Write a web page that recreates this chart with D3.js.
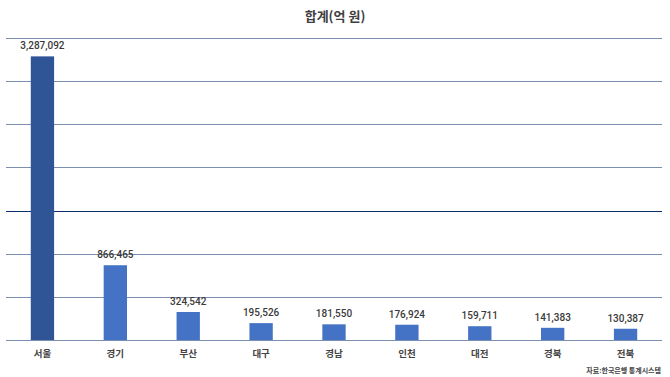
<!DOCTYPE html>
<html>
<head>
<meta charset="utf-8">
<script src="https://cdn.jsdelivr.net/npm/d3@7"></script>
<style>
  html, body { margin: 0; padding: 0; background: #fff; }
  svg { display: block; }
</style>
</head>
<body>
<div id="chart"></div>
<script>
const regions = ['서울', '경기', '부산', '대구', '경남', '인천', '대전', '경북', '전북'];
const totals  = [3287092, 866465, 324542, 195526, 181550, 176924, 159711, 141383, 130387];
const gridTicks = [0, 500000, 1000000, 1500000, 2000000, 2500000, 3000000, 3500000];

const width = 670, height = 377;
const margin = { top: 38, right: 8, bottom: 37, left: 6 };

const svg = d3.select('#chart').append('svg')
  .attr('width', width).attr('height', height);

const x = d3.scaleBand()
  .domain(regions)
  .range([margin.left, width - margin.right])
  .paddingInner(0.68)
  .paddingOuter(0.34);

const y = d3.scaleLinear()
  .domain([0, 3500000])
  .range([height - margin.bottom, margin.top]);

// title
svg.append('text')
  .attr('x', width / 2).attr('y', 21)
  .attr('text-anchor', 'middle')
  .attr('font-family', '"Noto Sans CJK KR", "Noto Sans", sans-serif')
  .attr('font-size', 13).attr('font-weight', 'bold')
  .attr('fill', '#404040')
  .text('합계(억 원)');

// gridlines (1.5M line is drawn darker, as in the original)
svg.append('g').selectAll('line')
  .data(gridTicks)
  .join('line')
  .attr('x1', margin.left).attr('x2', width - margin.right)
  .attr('y1', d => Math.round(y(d)) + 0.5).attr('y2', d => Math.round(y(d)) + 0.5)
  .attr('stroke', d => d === 1500000 ? '#0b2e6e' : '#7d8fb0')
  .attr('stroke-width', 1.2);

// bars
svg.append('g').selectAll('rect')
  .data(regions.map((r, i) => ({ r, v: totals[i] })))
  .join('rect')
  .attr('x', d => x(d.r))
  .attr('width', x.bandwidth())
  .attr('y', d => y(d.v))
  .attr('height', d => y(0) - y(d.v))
  .attr('fill', (d, i) => i === 0 ? '#2f5597' : '#4472c4');

// value labels
svg.append('g').selectAll('text')
  .data(regions.map((r, i) => ({ r, v: totals[i] })))
  .join('text')
  .attr('x', d => x(d.r) + x.bandwidth() / 2)
  .attr('y', d => y(d.v) - 7)
  .attr('text-anchor', 'middle')
  .attr('font-family', 'Roboto, sans-serif')
  .attr('font-size', 10).attr('font-weight', 500)
  .attr('fill', '#3a3a3a')
  .text(d => d3.format(',')(d.v));

// category axis
const xAxis = svg.append('g')
  .attr('transform', `translate(0, ${y(0)})`)
  .call(d3.axisBottom(x).tickSize(0).tickPadding(10));
xAxis.select('.domain').remove();
xAxis.selectAll('text')
  .attr('font-family', '"Noto Sans CJK KR", sans-serif')
  .attr('font-size', 9.5).attr('font-weight', 'bold')
  .attr('fill', '#444');

// source
svg.append('text')
  .attr('x', width - 9).attr('y', 373)
  .attr('text-anchor', 'end')
  .attr('font-family', '"Noto Sans CJK KR", sans-serif')
  .attr('font-size', 7).attr('font-weight', 'bold')
  .attr('fill', '#444')
  .text('자료:한국은행 통계시스템');
</script>
</body>
</html>
